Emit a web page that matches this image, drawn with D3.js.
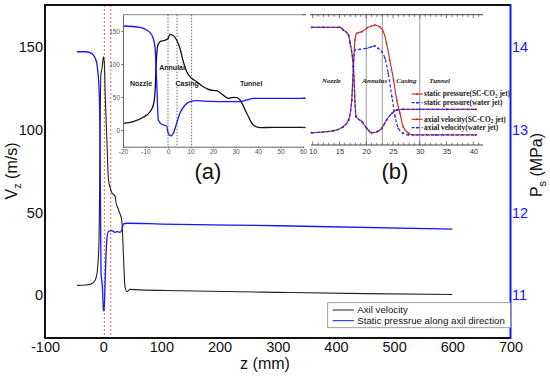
<!DOCTYPE html>
<html><head><meta charset="utf-8">
<script src="https://cdn.jsdelivr.net/npm/d3@7"></script>
<style>
body{margin:0;background:#fff;}
svg{display:block;font-family:"Liberation Sans",Arial,sans-serif;}
</style></head>
<body><svg id="c" width="550" height="376"></svg>
<script>
// ---------- DATA ----------
// main plot
const xTicks = [-100,0,100,200,300,400,500,600,700];
const yLeftTicks = [0,50,100,150];
const yRightTicks = [11,12,13,14];
const velZ = [-45,-30,-20,-14,-10,-8,-7,-6,-5,-4,-2,0.5,2,3.4,6.3,9,12,14.8,17,20.4,22,25,27.9,30.2,32,33.7,35.5,37.6,41.6,46,63,132,300,450,600];
const velV = [6,6.2,7,9,15,25,35,70,110,133,137,144,140,122,94,70,65,62,61,60,56,53,50,48,45,34,18,5,2.2,3.6,3.3,2.8,1.8,1,0.5];
const presZ = [-45,-30,-19.7,-15,-11,-7,-5.4,-4.2,-3.7,-1.4,0.4,1.5,3.8,6.2,9,14.8,20.4,23.3,29,32,34.7,40.5,100,300,600];
const presP = [13.94,13.94,13.92,13.88,13.80,13.48,12.88,11.67,11.27,11.11,10.83,10.81,11.27,11.67,11.77,11.78,11.76,11.77,11.76,11.79,11.86,11.87,11.86,11.84,11.80];
const regionLines = [2,13];
const legendLabels = ["Axil velocity","Static pressrue along axil direction"];

// inset (a)
const aXTicks = [-20,-10,0,10,20,30,40,50,60];
const aYTicks = [0,50,100,150];
const aVelZ = [-19.9,-15.4,-11,-8,-6.5,-5.8,-5.3,-4.7,-3.6,-1.3,0.1,0.9,2.1,3.9,5.3,6.8,8.3,10.5,12.8,15.7,18.7,21.6,23.9,26.8,29,30.8,32,35,37.9,40.9,46.8,61];
const aVelV = [10.1,12.6,19.2,27.7,37.9,55.6,96,126,133.8,136,139,145,144,136,123.8,103.5,88.4,78.3,73.2,65.6,60.6,59.6,54.5,48,49.5,49,45.5,25.3,7.6,3.5,4.1,4.1];
const aPresZ = [-19.9,-12.4,-9.5,-7.2,-5.8,-5,-4.3,-2.8,-0.6,0.1,1.2,2.4,3.6,5.3,7.6,9.8,12.8,18.7,26.1,32,35,37.9,61];
const aPresV = [157.6,155.6,151.5,144,126,70.7,15,8.6,6,-5,-9,-5,7.6,25.3,37.9,42.9,44.4,43.4,42.9,42.9,45.5,48,48];
const aZoneLines = [0,4,10.5];
const aZoneLabels = [{t:"Nozzle",z:-12,v:67},{t:"Annular",z:2,v:91},{t:"Casing",z:8.5,v:67},{t:"Tunnel",z:37,v:67}];

// inset (b)
const bMajorTicks = [10,15,20,25,30,35,40];
const bMinorTicks = d3.range(10,42,1);
const bPresZ = [9.8,12,15.1,15.7,16.7,17,17.6,18.1,19.2,20.1,21,22,22.9,23.8,24.8,25.7,26.9,30,35,40.5];
const bPresSC = [90.3,90.3,90.3,88.3,84.4,78,60,21.7,17.9,12.8,9.4,10.2,12.8,19.2,24.3,26.9,27.4,27.4,27.4,27.4];
const bPresW  = [90.3,90.3,90.3,88.3,84.4,78,60,21.7,17.9,12.8,9.4,10.2,12.8,19.2,24.3,26.9,27.4,27.4,27.4,27.4];
const bVelSCZ = [9.8,13.9,15.7,16.7,17.3,17.6,17.9,18.2,19.2,20.1,21,21.6,22.5,23.2,23.8,24.4,25.1,25.7,26.3,26.9,27.9,28.8,33,40.5];
const bVelSC  = [9.4,11,14.1,19.2,34.5,60,80.6,85.7,87,89.6,91.3,92.1,90.8,87,78,65.2,49.9,34.5,24.3,14,9,7.7,7.7,7.7];
const bVelWZ = [9.8,13.9,15.7,16.7,17.3,17.6,17.9,18.8,20.1,21,21.6,22.2,22.9,23.5,24.1,24.8,25.4,26,26.9,27.9,33,40.5];
const bVelW  = [9.4,11,14.1,19.2,34.5,60,72.9,73.4,74.2,75.4,76,74.2,71.6,66.5,55,37,21.7,12.8,9,7.7,7.7,7.7];
const bZoneLines = [20,23,30];
const bZoneLabels = [{t:"Nozzle",z:13.5},{t:"Annulus",z:21.6},{t:"Casing",z:27.5},{t:"Tunnel",z:33.7}];
// legend parts: [before subscript, subscript, after]
const bLegend = [["static pressure(SC-CO","2"," jet)"],["static pressure(water jet)","",""],["axial velocity(SC-CO","2"," jet)"],["axial velocity(water jet)","",""]];

// ---------- DRAW ----------
const FONT = "'Liberation Sans',Arial,sans-serif";
const SERIF = "'Liberation Serif','DejaVu Serif',serif";
const fmt = d=>String(d);
const svg = d3.select("#c");
const L=45,R=510.5,T=5,B=338;
const x = d3.scaleLinear().domain([-100,700]).range([L,R]);
const yL = d3.scaleLinear().domain([-25.76,175.2]).range([B,T]);
const yR = d3.scaleLinear().domain([10.485,14.504]).range([B,T]);
const BLUE="#1616ff";

// red dotted region lines
regionLines.forEach(z=>{
  svg.append("line").attr("x1",x(z)).attr("x2",x(z)).attr("y1",T).attr("y2",B)
    .attr("stroke","#f06060").attr("stroke-width",1).attr("stroke-dasharray","2,2");
});

const lineV = d3.line().x(d=>x(d[0])).y(d=>yL(d[1])).curve(d3.curveMonotoneX);
const lineP = d3.line().x(d=>x(d[0])).y(d=>yR(d[1])).curve(d3.curveMonotoneX);
svg.append("path").datum(velZ.map((z,i)=>[z,velV[i]])).attr("d",lineV)
  .attr("fill","none").attr("stroke","#222").attr("stroke-width",1.1);
svg.append("path").datum(presZ.map((z,i)=>[z,presP[i]])).attr("d",lineP)
  .attr("fill","none").attr("stroke",BLUE).attr("stroke-width",1.3);

// axes
const gx = svg.append("g").attr("transform",`translate(0,${B})`)
  .call(d3.axisBottom(x).tickValues(xTicks).tickFormat(fmt).tickSize(0).tickPadding(4));
const gyl = svg.append("g").attr("transform",`translate(${L},0)`)
  .call(d3.axisLeft(yL).tickValues(yLeftTicks).tickFormat(fmt).tickSize(0).tickPadding(2));
const gyr = svg.append("g").attr("transform",`translate(${R},0)`)
  .call(d3.axisRight(yR).tickValues(yRightTicks).tickFormat(fmt).tickSize(0).tickPadding(1.5));
[gx,gyl,gyr].forEach(g=>{g.select(".domain").remove(); g.selectAll("text").attr("font-size",14.5).attr("font-family",FONT);});
gx.selectAll("text").attr("fill","#111");
gyl.selectAll("text").attr("fill","#111");
gyr.selectAll("text").attr("fill",BLUE);
// frame
svg.append("path").attr("d",`M${R},${T}H${L}V${B}H${R}`).attr("fill","none").attr("stroke","#111").attr("stroke-width",2);
svg.append("line").attr("x1",R).attr("x2",R).attr("y1",T-1).attr("y2",B+1).attr("stroke",BLUE).attr("stroke-width",2);

// axis titles
const yt = svg.append("text").attr("transform",`translate(17,171) rotate(-90)`).attr("text-anchor","middle")
  .attr("font-size",16).attr("fill","#111");
yt.append("tspan").text("V");
yt.append("tspan").attr("font-size",11).attr("dy",4).text("z");
yt.append("tspan").attr("dy",-4).text(" (m/s)");
const rt = svg.append("text").attr("transform",`translate(542,165) rotate(-90)`).attr("text-anchor","middle")
  .attr("font-size",16).attr("fill","#111");
rt.append("tspan").text("P");
rt.append("tspan").attr("font-size",11).attr("dy",4).text("s");
rt.append("tspan").attr("dy",-4).text(" (MPa)");
svg.append("text").attr("x",265).attr("y",369).attr("text-anchor","middle").attr("font-size",16).attr("fill","#111").text("z (mm)");

// main legend
const lg = svg.append("g");
lg.append("rect").attr("x",327.7).attr("y",302.7).attr("width",R-327.7).attr("height",25)
  .attr("fill","#fff").attr("stroke","#888").attr("stroke-width",0.8);
[["#222",310],[BLUE,320.7]].forEach((d,i)=>{
  lg.append("line").attr("x1",332.7).attr("x2",354).attr("y1",d[1]).attr("y2",d[1]).attr("stroke",d[0]).attr("stroke-width",1);
  lg.append("text").attr("x",357.3).attr("y",d[1]+3.4).attr("font-size",9.7).attr("fill","#111").text(legendLabels[i]);
});

// ---------- inset (a) ----------
const ax = d3.scaleLinear().domain([-20,60]).range([123,303]);
const ay = d3.scaleLinear().domain([-25.3,174.7]).range([146.7,14.7]);
const ga = svg.append("g");
aZoneLines.forEach(z=>{
  ga.append("line").attr("x1",ax(z)).attr("x2",ax(z)).attr("y1",14.7).attr("y2",146.7)
    .attr("stroke","#444").attr("stroke-width",0.8).attr("stroke-dasharray","1.5,1.5");
});
const aLine = d3.line().x(d=>ax(d[0])).y(d=>ay(d[1])).curve(d3.curveMonotoneX);
ga.append("path").datum(aVelZ.map((z,i)=>[z,aVelV[i]])).attr("d",aLine).attr("fill","none").attr("stroke","#111").attr("stroke-width",1.3);
ga.append("path").datum(aPresZ.map((z,i)=>[z,aPresV[i]])).attr("d",aLine).attr("fill","none").attr("stroke",BLUE).attr("stroke-width",1.3);
const gax = ga.append("g").attr("transform","translate(0,146.7)")
  .call(d3.axisBottom(ax).tickValues(aXTicks).tickFormat(fmt).tickSize(1.5).tickPadding(1).tickSizeOuter(0));
const gay = ga.append("g").attr("transform","translate(123,0)")
  .call(d3.axisLeft(ay).tickValues(aYTicks).tickFormat(fmt).tickSize(1.5).tickPadding(1.5).tickSizeOuter(0));
[gax,gay].forEach(g=>{g.select(".domain").attr("stroke","#666").attr("stroke-width",1);
  g.selectAll(".tick line").attr("stroke","#666");
  g.selectAll("text").attr("font-size",6.5).attr("font-family",FONT).attr("fill","#555");});
ga.append("line").attr("x1",123).attr("x2",305).attr("y1",14.7).attr("y2",14.7).attr("stroke","#888").attr("stroke-width",1);
aZoneLabels.forEach(d=>{
  ga.append("text").attr("x",ax(d.z)).attr("y",ay(d.v)).attr("text-anchor","middle")
    .attr("font-size",7).attr("font-weight","bold").attr("fill","#222").text(d.t);
});
svg.append("text").attr("x",208).attr("y",179).attr("text-anchor","middle").attr("font-size",22).attr("fill","#111").text("(a)");

// ---------- inset (b) ----------
const bx = d3.scaleLinear().domain([10,40]).range([312.7,473.3]);
const by = d3.scaleLinear().domain([0,100]).range([145,14.7]);
const gb = svg.append("g");
bZoneLines.forEach(z=>{
  gb.append("line").attr("x1",bx(z)).attr("x2",bx(z)).attr("y1",14.7).attr("y2",145)
    .attr("stroke","#999").attr("stroke-width",1);
});
const RED="#d42a2a", BB="#2b2bf0";
const bLine = d3.line().x(d=>bx(d[0])).y(d=>by(d[1])).curve(d3.curveMonotoneX);
function bSeries(zs,vs,color,dash){
  const data = zs.map((z,i)=>[z,vs[i]]);
  gb.append("path").datum(data).attr("d",bLine).attr("fill","none").attr("stroke",color)
    .attr("stroke-width",1.2).attr("stroke-dasharray",dash);
  gb.selectAll(null).data(data).enter().append("circle").attr("cx",d=>bx(d[0])).attr("cy",d=>by(d[1]))
    .attr("r",0.9).attr("fill",color);
}
bSeries(bPresZ,bPresSC,RED,null);
bSeries(bVelSCZ,bVelSC,RED,null);
bSeries(bPresZ,bPresW,BB,"3,2");
bSeries(bVelWZ,bVelW,BB,"3,2");
const gbx = gb.append("g").attr("transform","translate(0,145)")
  .call(d3.axisBottom(bx).tickValues(bMajorTicks).tickFormat(fmt).tickSize(0).tickPadding(4));
gbx.select(".domain").remove();
gbx.selectAll("text").attr("font-size",7.5).attr("font-family",FONT).attr("fill","#333");
gb.append("line").attr("x1",311).attr("x2",483).attr("y1",145).attr("y2",145).attr("stroke","#444").attr("stroke-width",1);
gb.append("line").attr("x1",310).attr("x2",483).attr("y1",14.7).attr("y2",14.7).attr("stroke","#444").attr("stroke-width",1);
bMinorTicks.forEach(t=>{
  const len = bMajorTicks.includes(t)?3.5:2.2;
  gb.append("line").attr("x1",bx(t)).attr("x2",bx(t)).attr("y1",145).attr("y2",145-len).attr("stroke","#444").attr("stroke-width",0.7);
  gb.append("line").attr("x1",bx(t)).attr("x2",bx(t)).attr("y1",14.7).attr("y2",14.7+len).attr("stroke","#444").attr("stroke-width",0.7);
});
[14.7,98,127.7].forEach(yv=>{
  gb.append("line").attr("x1",302).attr("x2",306).attr("y1",yv).attr("y2",yv).attr("stroke","#444").attr("stroke-width",0.8);
});
bZoneLabels.forEach(d=>{
  gb.append("text").attr("x",bx(d.z)).attr("y",83).attr("text-anchor","middle")
    .attr("font-family",SERIF).attr("font-style","italic").attr("font-weight","bold")
    .attr("font-size",7).attr("fill","#222").text(d.t);
});
const bLegY=[94,102.7,119.3,127.7];
bLegend.forEach((t,i)=>{
  const c = i%2===0?RED:BB;
  gb.append("line").attr("x1",411.7).attr("x2",422.7).attr("y1",bLegY[i]).attr("y2",bLegY[i]).attr("stroke",c)
    .attr("stroke-width",1.2).attr("stroke-dasharray",i%2===0?null:"3,2");
  gb.append("circle").attr("cx",417).attr("cy",bLegY[i]).attr("r",1).attr("fill",c);
  const tx = gb.append("text").attr("x",424).attr("y",bLegY[i]+2.4).attr("font-family",SERIF)
    .attr("font-weight","bold").attr("font-size",7.4).attr("fill","#222");
  tx.append("tspan").text(t[0]);
  if(t[1]){
    tx.append("tspan").attr("font-size",5.2).attr("dy",1.5).text(t[1]);
    tx.append("tspan").attr("dy",-1.5).text(t[2]);
  }
});
svg.append("text").attr("x",395).attr("y",179).attr("text-anchor","middle").attr("font-size",22).attr("fill","#111").text("(b)");
</script></body></html>
